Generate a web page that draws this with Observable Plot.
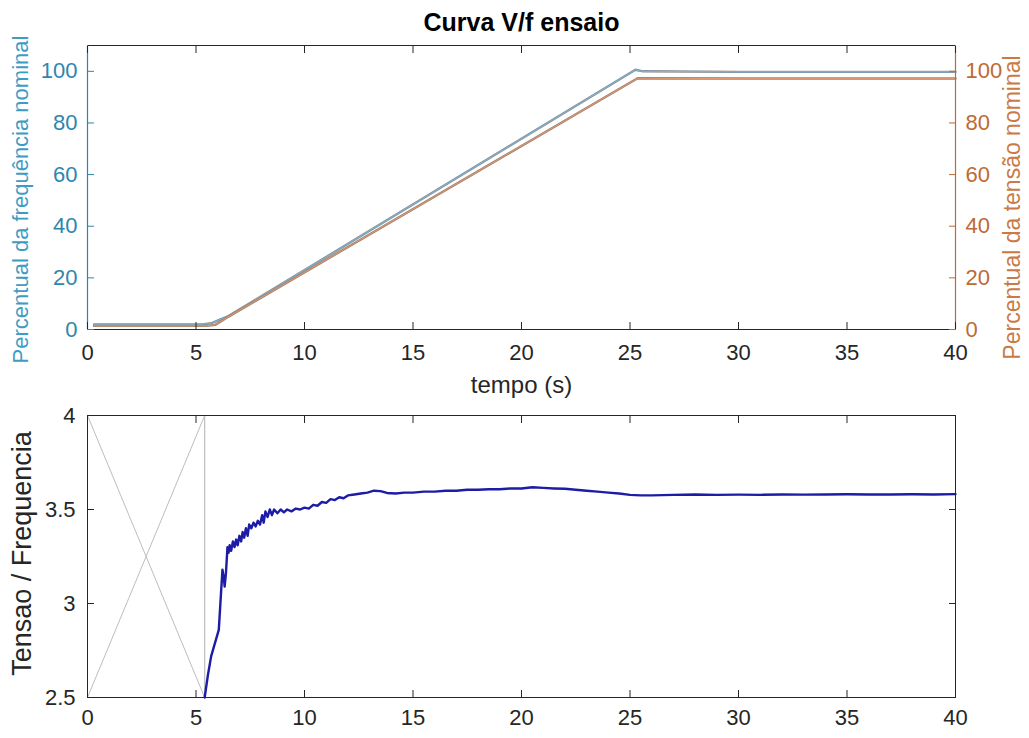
<!DOCTYPE html>
<html>
<head>
<meta charset="utf-8">
<script src="https://cdn.jsdelivr.net/npm/d3@7"></script>
<script src="https://cdn.jsdelivr.net/npm/@observablehq/plot@0.6"></script>
<style>
  html, body { margin: 0; padding: 0; background: #fff; }
  #wrap { position: relative; width: 1029px; height: 738px; overflow: hidden; font-family: "Liberation Sans", Arial, sans-serif; }
  #topChart, #bottomChart { position: absolute; left: 0; }
  #topChart { top: 0; }
  #bottomChart { top: 400px; }
  svg { display: block; }
</style>
</head>
<body>
<div id="wrap"><div id="topChart"></div><div id="bottomChart"></div></div>
<script>
// ---------- data ----------
const titleText = "Curva V/f ensaio";
const xLabelTop = "tempo (s)";
const yLabelLeft = "Percentual da frequência nominal";
const yLabelRight = "Percentual da tensão nominal";
const yLabelBottom = "Tensao / Frequencia";

const xTicks = [0, 5, 10, 15, 20, 25, 30, 35, 40];
const yTicksTop = [0, 20, 40, 60, 80, 100];
const yTicksBottom = [2.5, 3, 3.5, 4];

// frequency (% of nominal) vs time
const freqT = [0.3, 5.3, 5.7, 6.1, 6.5, 25.25, 25.6, 30, 35, 40];
const freqV = [2.0, 2.0, 2.4, 3.8, 5.2, 100.6, 100.0, 99.8, 99.8, 99.8];

// voltage (% of nominal) vs time
const voltT = [0.3, 5.5, 5.9, 6.2, 6.5, 25.35, 30, 35, 40];
const voltV = [1.4, 1.4, 1.8, 3.4, 5.0, 97.3, 97.2, 97.2, 97.2];

// V/f ratio vs time
const ratioT = [5.4, 5.55, 5.7, 5.8, 5.95, 6.05, 6.15, 6.22, 6.28, 6.32, 6.38, 6.45, 6.5, 6.55, 6.62, 6.7, 6.78, 6.85, 6.92, 7.0,
  7.08, 7.15, 7.22, 7.3, 7.38, 7.45, 7.55, 7.65, 7.75, 7.85, 7.95, 8.05, 8.12, 8.2, 8.3, 8.4, 8.5, 8.6, 8.75, 8.9,
  9.05, 9.2, 9.4, 9.6, 9.8, 10.0, 10.2, 10.4, 10.6, 10.8, 11.0, 11.2, 11.4, 11.6, 11.8, 12.0, 12.3, 12.6, 12.9, 13.2,
  13.5, 13.8, 14.2, 14.6, 15.0, 15.5, 16.0, 16.5, 17.0, 17.5, 18.0, 18.5, 19.0, 19.5, 20.0, 20.5, 21.0, 21.5, 22.0, 22.5,
  23.0, 23.5, 24.0, 24.5, 25.0, 25.5, 26.0, 27.0, 28.0, 29.0, 30.0, 31.0, 32.0, 33.0, 34.0, 35.0, 36.0, 37.0, 38.0, 39.0, 40.0];
const ratioV = [2.5, 2.62, 2.72, 2.76, 2.82, 2.86, 3.05, 3.18, 3.14, 3.09, 3.16, 3.30, 3.27, 3.31, 3.28, 3.33, 3.30, 3.34, 3.31, 3.36,
  3.33, 3.38, 3.35, 3.40, 3.36, 3.42, 3.40, 3.43, 3.41, 3.44, 3.42, 3.47, 3.43, 3.49, 3.46, 3.50, 3.47, 3.50, 3.48, 3.50,
  3.485, 3.50, 3.49, 3.505, 3.50, 3.51, 3.505, 3.525, 3.52, 3.54, 3.535, 3.555, 3.55, 3.565, 3.56, 3.575, 3.58, 3.585, 3.59, 3.60,
  3.598, 3.588, 3.585, 3.59, 3.59, 3.595, 3.595, 3.60, 3.60, 3.605, 3.605, 3.608, 3.608, 3.612, 3.612, 3.618, 3.615, 3.612, 3.61, 3.605,
  3.60, 3.595, 3.59, 3.585, 3.578, 3.575, 3.575, 3.578, 3.58, 3.578, 3.579, 3.578, 3.58, 3.579, 3.58, 3.581, 3.58, 3.58, 3.581, 3.58, 3.582];

// grey "X" placeholder lines in the lower axes
const crossAT = [0, 5.4], crossAV = [4, 2.5];
const crossBT = [0, 5.4], crossBV = [2.5, 4];
const vertT = [5.4, 5.4], vertV = [2.5, 4];

// ---------- styles ----------
const BLUE_AX = "#2f86ad";
const ORANGE_AX = "#bd6a36";
const BLUE_LN = "#79b8da";
const ORANGE_LN = "#de9a72";
const DARK = "#262626";
const FONT = "Liberation Sans, Arial, sans-serif";

const rows = (t, v) => t.map((x, i) => ({t: x, v: v[i]}));
const blank = () => "";

// ---------- top plot ----------
const topPlot = Plot.plot({
  width: 1029, height: 400,
  marginLeft: 87, marginRight: 74, marginTop: 45, marginBottom: 71,
  style: {fontFamily: FONT, background: "#fff", color: DARK},
  x: {domain: [0, 40], axis: null},
  y: {domain: [0, 110], axis: null},
  marks: [
    Plot.line(rows(freqT, freqV), {x: "t", y: "v", stroke: "#8a8f94", strokeWidth: 2.4}),
    Plot.line(rows(freqT, freqV), {x: "t", y: "v", stroke: BLUE_LN, strokeWidth: 1}),
    Plot.line(rows(voltT, voltV), {x: "t", y: "v", stroke: "#a0806e", strokeWidth: 2.4}),
    Plot.line(rows(voltT, voltV), {x: "t", y: "v", stroke: ORANGE_LN, strokeWidth: 1}),
    Plot.frame({stroke: DARK, strokeWidth: 1}),
    Plot.ruleX([0], {stroke: BLUE_AX, strokeWidth: 1.2}),
    Plot.ruleX([40], {stroke: ORANGE_AX, strokeWidth: 1.2}),
    Plot.axisX({anchor: "bottom", ticks: xTicks, tickSize: 0, tickPadding: 15, fontSize: 22, color: DARK, label: null}),
    Plot.axisX({anchor: "bottom", ticks: xTicks, tickSize: 7, dy: -7, tickFormat: blank, color: DARK, label: null}),
    Plot.axisX({anchor: "top", ticks: xTicks, tickSize: 7, dy: 7, tickFormat: blank, color: DARK, label: null}),
    Plot.axisY({anchor: "left", ticks: yTicksTop, tickSize: 0, tickPadding: 10, fontSize: 22, color: BLUE_AX, label: null}),
    Plot.axisY({anchor: "left", ticks: yTicksTop, tickSize: 7, dx: 7, tickFormat: blank, color: BLUE_AX, label: null}),
    Plot.axisY({anchor: "right", ticks: yTicksTop, tickSize: 0, tickPadding: 10, fontSize: 22, color: ORANGE_AX, label: null}),
    Plot.axisY({anchor: "right", ticks: yTicksTop, tickSize: 7, dx: -7, tickFormat: blank, color: ORANGE_AX, label: null}),
    Plot.text([titleText], {text: d => d, frameAnchor: "top", textAnchor: "middle", lineAnchor: "middle", dy: -23, fontSize: 25, fontWeight: "bold", fill: "#000"}),
    Plot.text([xLabelTop], {text: d => d, frameAnchor: "bottom", textAnchor: "middle", lineAnchor: "middle", dy: 56, fontSize: 24, fill: DARK}),
    Plot.text([yLabelLeft], {text: d => d, frameAnchor: "left", textAnchor: "middle", rotate: -90, lineAnchor: "middle", dx: -67, dy: 12, fontSize: 22, fill: "#3e9cc4"}),
    Plot.text([yLabelRight], {text: d => d, frameAnchor: "right", textAnchor: "middle", rotate: -90, lineAnchor: "middle", dx: 57, dy: 20, fontSize: 23, fill: "#c97a45"})
  ]
});
document.getElementById("topChart").appendChild(topPlot);

// ---------- bottom plot ----------
const bottomPlot = Plot.plot({
  width: 1029, height: 338,
  marginLeft: 87, marginRight: 74, marginTop: 15, marginBottom: 41,
  style: {fontFamily: FONT, background: "#fff", color: DARK},
  x: {domain: [0, 40], axis: null},
  y: {domain: [2.5, 4], axis: null},
  marks: [
    Plot.line(rows(crossAT, crossAV), {x: "t", y: "v", stroke: "#bdbdbd", strokeWidth: 1}),
    Plot.line(rows(crossBT, crossBV), {x: "t", y: "v", stroke: "#bdbdbd", strokeWidth: 1}),
    Plot.line(rows(vertT, vertV), {x: "t", y: "v", stroke: "#bdbdbd", strokeWidth: 1.2}),
    Plot.line(rows(ratioT, ratioV), {x: "t", y: "v", stroke: "#1c1ca6", strokeWidth: 2.4}),
    Plot.frame({stroke: DARK, strokeWidth: 1}),
    Plot.axisX({anchor: "bottom", ticks: xTicks, tickSize: 0, tickPadding: 12, fontSize: 22, color: DARK, label: null}),
    Plot.axisX({anchor: "bottom", ticks: xTicks, tickSize: 7, dy: -7, tickFormat: blank, color: DARK, label: null}),
    Plot.axisX({anchor: "top", ticks: xTicks, tickSize: 7, dy: 7, tickFormat: blank, color: DARK, label: null}),
    Plot.axisY({anchor: "left", ticks: yTicksBottom, tickSize: 0, tickPadding: 12, fontSize: 22, color: DARK, label: null, tickFormat: d => String(d)}),
    Plot.axisY({anchor: "left", ticks: yTicksBottom, tickSize: 7, dx: 7, tickFormat: blank, color: DARK, label: null}),
    Plot.axisY({anchor: "right", ticks: yTicksBottom, tickSize: 7, dx: -7, tickFormat: blank, color: DARK, label: null}),
    Plot.text([yLabelBottom], {text: d => d, frameAnchor: "left", textAnchor: "middle", rotate: -90, lineAnchor: "middle", dx: -65, dy: -3, fontSize: 27, fill: DARK})
  ]
});
document.getElementById("bottomChart").appendChild(bottomPlot);
</script>
</body>
</html>
